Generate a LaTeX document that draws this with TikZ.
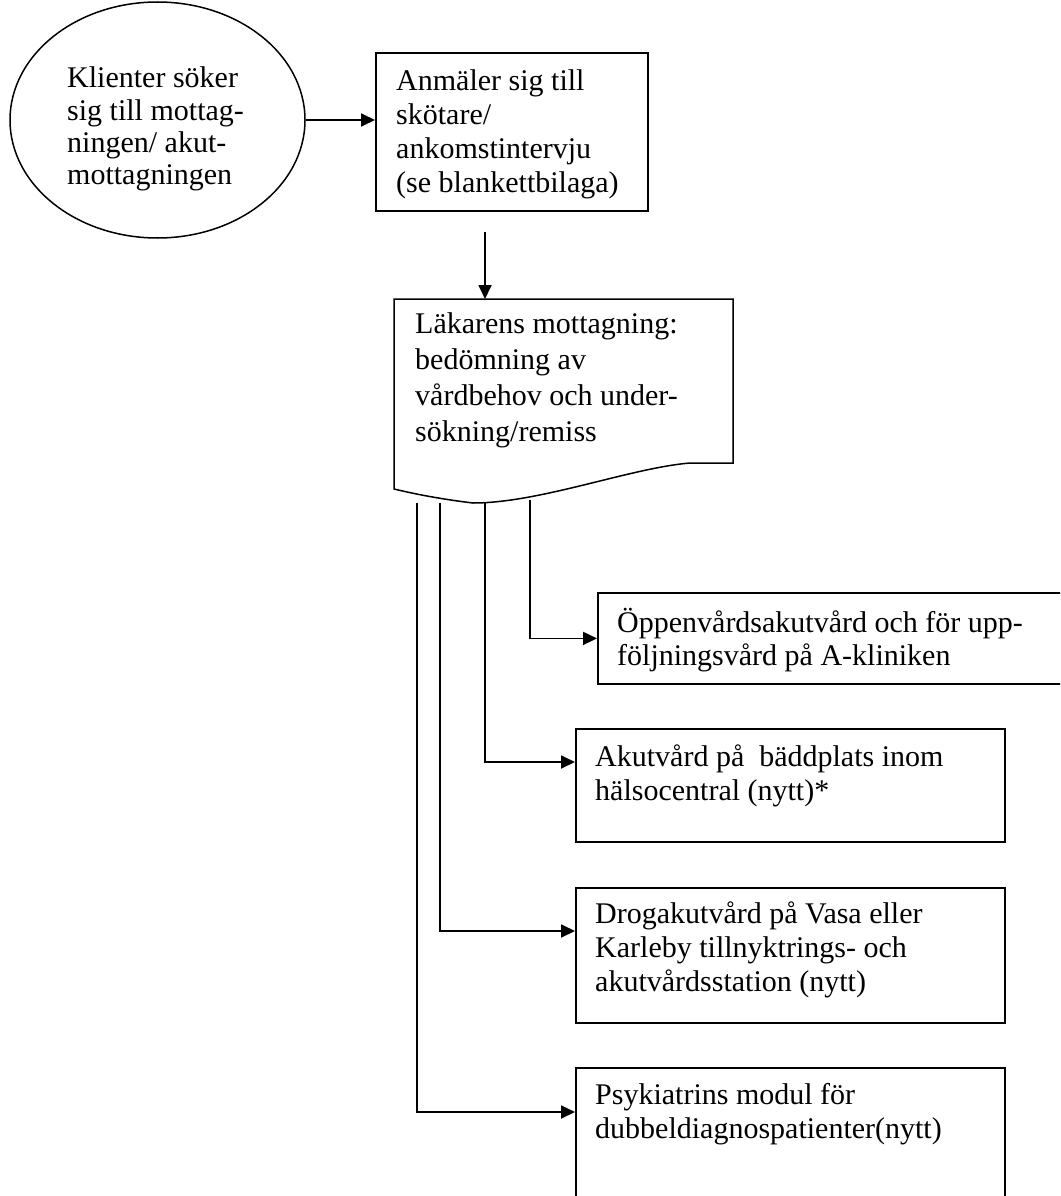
\documentclass[tikz,border=0pt]{standalone}
\usepackage{fontspec}
\setmainfont{Liberation Serif}
\usetikzlibrary{shapes.geometric,arrows.meta,calc}
\newcommand{\bxt}[3]{\parbox[t]{#2pt}{\raggedright\lineskiplimit=-100pt\fontsize{30}{#1}\selectfont #3}}
\tikzset{
  ln/.style={line width=1.8pt, draw=black},
  arr/.style={ln, -{Triangle[length=14pt,width=13pt]}},
  bx/.style={ln, rectangle, inner sep=0pt, anchor=north west},
  txt/.style={anchor=base west, inner sep=0pt},
}
\begin{document}
\begin{tikzpicture}[x=1pt,y=-1pt]
\useasboundingbox[fill=white] (0,0) rectangle (1060,1196);
\clip (0,0) rectangle (1060,1196);

% start ellipse
\node[ellipse, ln, line width=1.5pt, minimum width=295pt, minimum height=236pt, inner sep=0pt] (ell) at (157.5,120) {};
\node[txt] (ellt) at (67,88) {\bxt{32.3}{240}{Klienter söker\\sig till mottag-\\ningen/ akut-\\mottagningen}};

% registration box
\node[bx, minimum width=272pt, minimum height=158pt] (b1) at (375,52) {};
\node[txt] (b1t) at (396,91) {\bxt{34}{250}{Anmäler sig till\\skötare/\\ankomstintervju\\(se blankettbilaga)}};

% document shape
\draw[ln, line width=1.5pt] (394,299) -- (733,299) -- (733,463) -- (690,463)
  .. controls (630,468) and (540,503) .. (473,503)
  .. controls (440,499) and (415,494) .. (394,489) -- cycle;
\coordinate (dtop) at (485,299);
\node[txt] (doct) at (415,333) {\bxt{36}{310}{Läkarens mottagning:\\bedömning av\\vårdbehov och under-\\sökning/remiss}};

% target boxes
\node[bx, minimum width=490pt, minimum height=91pt] (oppen) at (597,592) {};
\node[txt] (oppent) at (617,632) {\bxt{33}{440}{Öppenvårdsakutvård och för upp-\\följningsvård på A-kliniken}};

\node[bx, minimum width=429pt, minimum height=113pt] (akut) at (575,728) {};
\node[txt] (akutt) at (595,766) {\bxt{34}{400}{Akutvård på\ \ bäddplats inom\\hälsocentral (nytt)*}};

\node[bx, minimum width=429pt, minimum height=135pt] (drog) at (575,887) {};
\node[txt] (drogt) at (595,923) {\bxt{34}{400}{Drogakutvård på Vasa eller\\Karleby tillnyktrings- och\\akutvårdsstation (nytt)}};

\node[bx, minimum width=429pt, minimum height=160pt] (psyk) at (575,1067) {};
\node[txt] (psykt) at (595,1104) {\bxt{34}{400}{Psykiatrins modul för\\dubbeldiagnospatienter(nytt)}};

% connectors
\draw[arr] (ell.east) -- (ell.east -| b1.west);
\coordinate (a1s) at (485,232);
\draw[arr] (a1s) -- (dtop);

\coordinate (s1) at (417,503);
\coordinate (s2) at (440,503);
\coordinate (s3) at (485,503);
\coordinate (s4) at (530,500);
\draw[arr] (s4) |- (oppen.west);
\draw[arr] (s3) |- ($(akut.north west)+(0,34)$);
\draw[arr] (s2) |- ($(drog.north west)+(0,44)$);
\draw[arr] (s1) |- ($(psyk.north west)+(0,45)$);
\end{tikzpicture}
\end{document}
